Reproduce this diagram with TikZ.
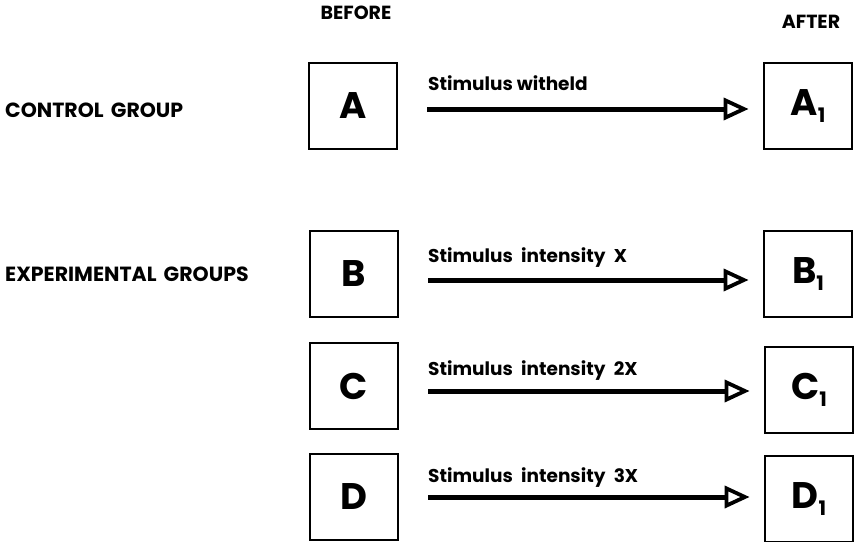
\documentclass[tikz,border=0pt]{standalone}
\usepackage{fontspec}
\setmainfont{Poppins}
\usetikzlibrary{arrows.meta}
\tikzset{
  box/.style={draw, line width=2.8pt, minimum width=88pt, minimum height=86pt, inner sep=0pt,
    font=\fontsize{37}{37}\selectfont\bfseries},
  grp/.style={anchor=west, font=\fontsize{20.5}{20.5}\selectfont\bfseries, inner sep=0pt},
  hdr/.style={font=\fontsize{19}{19}\selectfont\bfseries, inner sep=0pt},
  stim/.style={anchor=base west, font=\fontsize{18.5}{18.5}\selectfont\bfseries, inner sep=0pt},
  arr/.style={line width=5pt, -{Triangle[open, length=25pt, width=22pt, line width=3.8pt]},
    shorten <=29pt, shorten >=14pt}
}
\newcommand{\sub}[1]{\raisebox{-0.35ex}{\fontsize{20}{20}\selectfont #1}}
\begin{document}
\begin{tikzpicture}[x=1pt,y=-1pt]
\useasboundingbox (0,0) rectangle (854,541);
\node[hdr] (before) at (356,13) {BEFORE};
\node[hdr] (after) at (811,22) {AFTER};
\node[grp] (control) at (5,110) {CONTROL\hspace{0.35em}GROUP};
\node[grp] (exper) at (5,274) {EXPERIMENTAL\hspace{0.35em}GROUPS};

\node[box] (A) at (353,106) {A};
\node[box] (B) at (354,274) {B};
\node[box] (C) at (354,386) {C};
\node[box] (D) at (354,497) {D};
\node[box] (A1) at (808,106) {A\sub{1}};
\node[box] (B1) at (808,274) {B\sub{1}};
\node[box] (C1) at (809,390) {C\sub{1}};
\node[box] (D1) at (809,499) {D\sub{1}};

\draw[arr] ([yshift=-3pt]A.east) -- ([yshift=-3pt]A1.west);
\draw[arr] ([yshift=-6pt]B.east) -- ([yshift=-6pt]B1.west);
\draw[arr] ([yshift=-5pt]C.east) -- ([yshift=-5pt]C1.west |- C.east);
\draw[arr] ([yshift=0pt]D.east) -- ([yshift=0pt]D1.west |- D.east);

\node[stim] (sa) at (428,90) {Stimulus witheld};
\node[stim] (sb) at (428,262) {Stimulus\hspace{0.45em}intensity\hspace{0.45em}X};
\node[stim] (sc) at (428,375) {Stimulus\hspace{0.45em}intensity\hspace{0.45em}2X};
\node[stim] (sd) at (428,482) {Stimulus\hspace{0.45em}intensity\hspace{0.45em}3X};
\end{tikzpicture}
\end{document}
